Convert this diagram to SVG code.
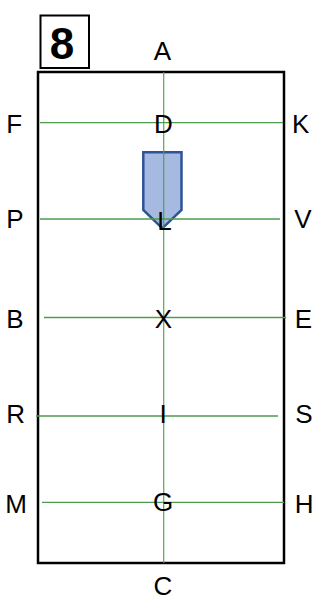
<svg xmlns="http://www.w3.org/2000/svg" width="334" height="599" viewBox="0 0 334 599">
<style>
.lbl{font-family:"Liberation Sans",Arial,sans-serif;font-size:26px;fill:#000}
.mid{text-anchor:middle}
.g{stroke:#4E9A4E;stroke-width:1.3;fill:none}
</style>
<rect width="334" height="599" fill="#fff"/>
<g id="frame">
<rect x="38" y="72" width="246" height="491" fill="none" stroke="#000" stroke-width="2.5"/>
</g>
<g id="numbox">
<rect x="40.5" y="15.5" width="48.5" height="52.5" fill="none" stroke="#000" stroke-width="2"/>
<text x="62" y="59" class="lbl mid" style="font-size:44px;font-weight:bold">8</text>
</g>
<g id="pointer">
<polygon points="143.3,152.3 181.5,152.3 181.5,210 162.3,228.3 143.3,210" fill="#A5B9E1" stroke="#2F5496" stroke-width="2.5" stroke-linejoin="miter"/>
</g>
<g id="connectors">
<line class="g" x1="163.7" y1="72" x2="163.7" y2="563" stroke-opacity="0.85"/>
<line class="g" x1="40" y1="122.7" x2="283" y2="122.7"/>
<line class="g" x1="40" y1="219" x2="280" y2="219"/>
<line class="g" x1="44" y1="317.5" x2="286" y2="317.5"/>
<line class="g" x1="36" y1="416" x2="278" y2="416"/>
<line class="g" x1="42" y1="502.3" x2="284" y2="502.3"/>
</g>
<g id="label-A"><text x="162.5" y="60" class="lbl mid">A</text></g>
<g id="label-D"><text x="163.5" y="132.5" class="lbl mid">D</text></g>
<g id="label-L"><text x="164.5" y="229.5" class="lbl mid">L</text></g>
<g id="label-X"><text x="163.5" y="327.7" class="lbl mid">X</text></g>
<g id="label-I"><text x="163" y="423.3" class="lbl mid">I</text></g>
<g id="label-G"><text x="163" y="511" class="lbl mid">G</text></g>
<g id="label-C"><text x="163" y="594.5" class="lbl mid">C</text></g>
<g id="label-F"><text x="6.3" y="133.3" class="lbl">F</text></g>
<g id="label-P"><text x="6.3" y="228.3" class="lbl">P</text></g>
<g id="label-B"><text x="6.3" y="328.3" class="lbl">B</text></g>
<g id="label-R"><text x="6.3" y="423.3" class="lbl">R</text></g>
<g id="label-M"><text x="5.2" y="513.3" class="lbl">M</text></g>
<g id="label-K"><text x="292" y="133.3" class="lbl">K</text></g>
<g id="label-V"><text x="294.3" y="228.3" class="lbl">V</text></g>
<g id="label-E"><text x="294.8" y="328.3" class="lbl">E</text></g>
<g id="label-S"><text x="295.3" y="423.3" class="lbl">S</text></g>
<g id="label-H"><text x="294.8" y="513.3" class="lbl">H</text></g>
</svg>
